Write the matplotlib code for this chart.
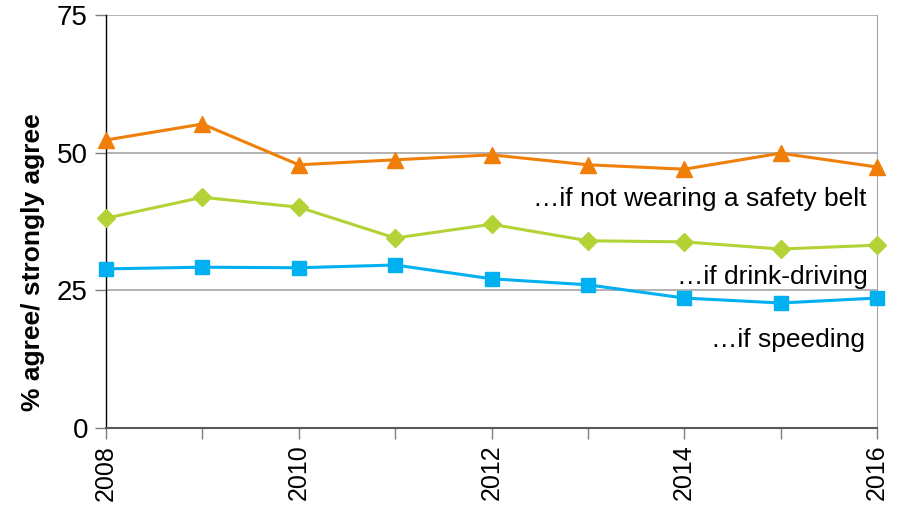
import matplotlib
matplotlib.use("Agg")
import matplotlib.pyplot as plt

years = [2008, 2009, 2010, 2011, 2012, 2013, 2014, 2015, 2016]
safety_belt = [52.3, 55.2, 47.8, 48.7, 49.6, 47.8, 47.0, 49.9, 47.4]
drink_driving = [38.1, 41.9, 40.1, 34.5, 37.0, 34.0, 33.8, 32.5, 33.2]
speeding = [28.9, 29.2, 29.1, 29.6, 27.1, 26.0, 23.6, 22.7, 23.6]
yticks = [0, 25, 50, 75]
xlabels = [2008, 2010, 2012, 2014, 2016]
series_labels = ["…if not wearing a safety belt", "…if drink-driving", "…if speeding"]

plt.rcParams['font.family'] = ['Liberation Sans', 'DejaVu Sans']

fig = plt.figure(figsize=(9.01, 5.07), dpi=100)
ax = fig.add_axes([106/901, 1-428/507, (877-106)/901, (428-15)/507])

orange = '#F07F09'
green = '#B2D235'
blue = '#00B0F0'

ax.plot(years, safety_belt, color=orange, lw=2.2, marker='^', ms=11, zorder=3, clip_on=False)
ax.plot(years, drink_driving, color=green, lw=2.2, marker='D', ms=9, zorder=3, clip_on=False)
ax.plot(years, speeding, color=blue, lw=2.2, marker='s', ms=10, zorder=3, clip_on=False)

ax.set_xlim(2008, 2016)
ax.set_ylim(0, 75)
ax.set_yticks(yticks)
ax.set_xticks(years)
ax.set_xticklabels([str(y) if y in xlabels else '' for y in years], rotation=90)
for y in [25, 50, 75]:
    ax.axhline(y, color='#A6A6A6', lw=1.2, zorder=1)

ax.spines['top'].set_visible(False)
ax.spines['right'].set_color('#A6A6A6')
ax.spines['left'].set_color('black')
ax.spines['left'].set_linewidth(1.0)
ax.spines['bottom'].set_color('#595959')
ax.spines['bottom'].set_linewidth(1.5)
ax.tick_params(axis='y', length=8, width=1, color='#7F7F7F', labelsize=20, pad=5)
ax.tick_params(axis='x', length=8, width=1, color='#7F7F7F', labelsize=18, pad=4)

fig.text(33/901, 1-262/507, '% agree/ strongly agree', rotation=90, ha='center', va='center',
         fontsize=19, fontweight='bold')

ax.text(0.987, 0.555, series_labels[0], transform=ax.transAxes, ha='right', va='center', fontsize=19)
ax.text(0.988, 0.366, series_labels[1], transform=ax.transAxes, ha='right', va='center', fontsize=19)
ax.text(0.984, 0.214, series_labels[2], transform=ax.transAxes, ha='right', va='center', fontsize=19)

fig.savefig('out.png', dpi=100)
